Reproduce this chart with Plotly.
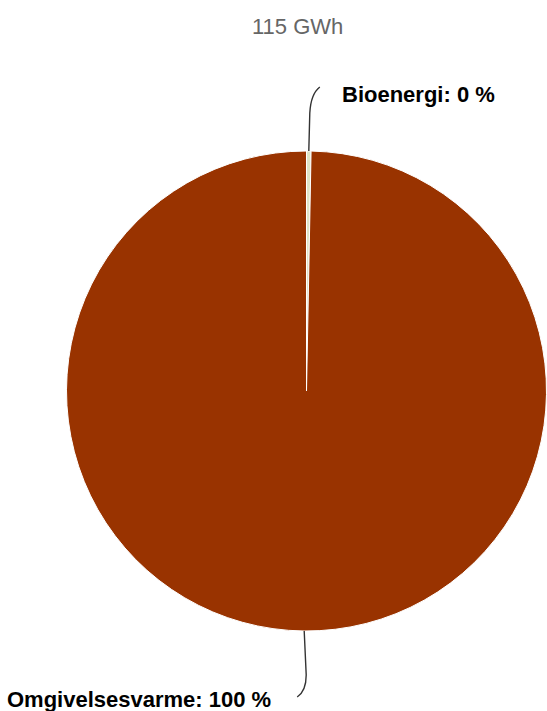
import math
import plotly.graph_objects as go

# Data
labels = ["Bioenergi", "Omgivelsesvarme"]
values = [0.35, 114.65]          # GWh
colors = ["#dfe4c6", "#993300"]
subtitle = "115 GWh"

W, H = 547, 711
cx, cy, r = 306.5, 391, 240   # pie geometry in pixels (from top-left)

def X(px):
    return px / W

def Y(py):
    return 1 - py / H

fig = go.Figure(go.Pie(
    labels=labels,
    values=values,
    marker=dict(colors=colors, line=dict(color="#ffffff", width=1)),
    sort=False,
    direction="clockwise",
    rotation=0,
    textinfo="none",
    hoverinfo="label+percent",
    showlegend=False,
    domain=dict(x=[X(cx - r), X(cx + r)], y=[Y(cy + r), Y(cy - r)]),
))

total = sum(values)
fracs = [v / total for v in values]
starts = [0.0]
for f in fracs[:-1]:
    starts.append(starts[-1] + f)

shapes = []
annotations = []
for lab, f, s in zip(labels, fracs, starts):
    th = (s + f / 2) * 2 * math.pi
    ex = cx + r * math.sin(th)
    ey = cy - r * math.cos(th)
    pct = round(f * 100)
    text = f"<b>{lab}: {pct} %</b>"
    if math.cos(th) > 0:   # top
        p1 = (ex + 1, ey - 38)
        ctrl = (ex + 2, ey - 57)
        end = (ex + 11, ey - 64)
        lx, ly, anchor = end[0] + 20, end[1] + 7, "left"
    else:                  # bottom
        p1 = (ex + 2, ey + 44)
        ctrl = (ex + 2, ey + 60)
        end = (ex - 7, ey + 66)
        lx, ly, anchor = end[0] - 24, end[1] + 3, "right"
    path = (f"M {X(ex)},{Y(ey)} L {X(p1[0])},{Y(p1[1])} "
            f"Q {X(ctrl[0])},{Y(ctrl[1])} {X(end[0])},{Y(end[1])}")
    shapes.append(dict(type="path", xref="paper", yref="paper", path=path,
                       line=dict(color="#333333", width=1.4)))
    annotations.append(dict(x=X(lx), y=Y(ly), xref="paper", yref="paper",
                            text=text, showarrow=False, xanchor=anchor,
                            yanchor="middle",
                            font=dict(family="Liberation Sans, Arial", size=22,
                                      color="#000000")))

annotations.append(dict(x=X(297), y=Y(26), xref="paper", yref="paper",
                        text=subtitle, showarrow=False, xanchor="center",
                        yanchor="middle",
                        font=dict(family="Liberation Sans, Arial", size=22,
                                  color="#666666")))

fig.update_layout(
    width=W, height=H,
    margin=dict(l=0, r=0, t=0, b=0),
    paper_bgcolor="#ffffff",
    plot_bgcolor="#ffffff",
    shapes=shapes,
    annotations=annotations,
)

fig.write_html("out.html",
               config={"displayModeBar": False},
               post_script="document.body.style.margin='0';document.body.style.overflow='hidden';")
